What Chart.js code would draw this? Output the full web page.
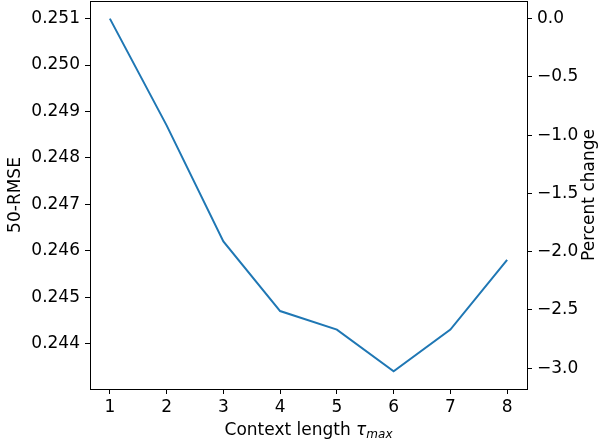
<!DOCTYPE html>
<html>
<head>
<meta charset="utf-8">
<script src="https://cdn.jsdelivr.net/npm/chart.js@4.4.1/dist/chart.umd.min.js"></script>
<style>
  html, body { margin: 0; padding: 0; background: #fff; }
  #wrap { width: 600px; height: 445px; position: relative; }
</style>
</head>
<body>
<div id="wrap"><canvas id="c" width="600" height="445"></canvas></div>
<script>
// ---- data ----
const contextLengths = [1, 2, 3, 4, 5, 6, 7, 8];
const rmseValues = [0.2510, 0.2487, 0.2462, 0.2447, 0.2443, 0.2434, 0.2443, 0.2458];
const xTicks = [1, 2, 3, 4, 5, 6, 7, 8];
const leftTicks = [0.244, 0.245, 0.246, 0.247, 0.248, 0.249, 0.250, 0.251];
const rightTicks = [0.0, -0.5, -1.0, -1.5, -2.0, -2.5, -3.0];
const xTitle = "Context length ";
const xTitleSym = "τ";
const xTitleSub = "max";
const leftTitle = "50-RMSE";
const rightTitle = "Percent change";

// ---- derived ranges (matplotlib-like 5% margins) ----
const yMinD = Math.min(...rmseValues), yMaxD = Math.max(...rmseValues);
const yPad = (yMaxD - yMinD) * 0.05;
const yMin = yMinD - yPad, yMax = yMaxD + yPad;
const xPad = (Math.max(...contextLengths) - Math.min(...contextLengths)) * 0.05;
const base = rmseValues[0];
const pct = v => (v / base - 1) * 100;

const FONT = "DejaVu Sans";
const FS = 17;

const titlesPlugin = {
  id: 'titles',
  afterDraw(chart) {
    const ctx = chart.ctx;
    const a = chart.chartArea;
    ctx.save();
    // top spine
    ctx.strokeStyle = '#000';
    ctx.lineWidth = 1;
    ctx.beginPath();
    ctx.moveTo(a.left, Math.round(a.top) + 0.5);
    ctx.lineTo(a.right, Math.round(a.top) + 0.5);
    ctx.stroke();

    ctx.fillStyle = '#000';
    // x title
    const f1 = FS + "px '" + FONT + "'";
    const f2 = "italic " + FS + "px '" + FONT + "'";
    const f3 = "italic 12px '" + FONT + "'";
    ctx.font = f1; const w1 = ctx.measureText(xTitle).width;
    ctx.font = f2; const w2 = ctx.measureText(xTitleSym).width;
    ctx.font = f3; const w3 = ctx.measureText(xTitleSub).width;
    const total = w1 + w2 + w3;
    let x = (a.left + a.right) / 2 - total / 2;
    const by = 435;
    ctx.textBaseline = 'alphabetic';
    ctx.textAlign = 'left';
    ctx.font = f1; ctx.fillText(xTitle, x, by); x += w1;
    ctx.font = f2; ctx.fillText(xTitleSym, x, by); x += w2;
    ctx.font = f3; ctx.fillText(xTitleSub, x, by + 3);

    // y titles (both read bottom-to-top)
    const cy = (a.top + a.bottom) / 2;
    ctx.font = f1;
    ctx.textAlign = 'center';
    ctx.textBaseline = 'middle';
    ctx.save();
    ctx.translate(16, cy);
    ctx.rotate(-Math.PI / 2);
    ctx.fillText(leftTitle, 0, 0);
    ctx.restore();
    ctx.save();
    ctx.translate(590, cy);
    ctx.rotate(-Math.PI / 2);
    ctx.fillText(rightTitle, 0, 0);
    ctx.restore();
    ctx.restore();
  }
};

const tickFont = { family: FONT, size: FS };
const zeroPad = s => { s.paddingTop = 0; s.paddingBottom = 0; s.paddingLeft = 0; s.paddingRight = 0; };

new Chart(document.getElementById('c'), {
  type: 'line',
  data: {
    datasets: [{
      data: contextLengths.map((x, i) => ({ x: x, y: rmseValues[i] })),
      borderColor: '#1f77b4',
      borderWidth: 2,
      pointRadius: 0,
      tension: 0,
      fill: false,
      yAxisID: 'y'
    }]
  },
  options: {
    responsive: false,
    animation: false,
    devicePixelRatio: 1,
    layout: { padding: { top: 1, left: 0, right: 0, bottom: 0 } },
    plugins: { legend: { display: false }, tooltip: { enabled: false } },
    scales: {
      x: {
        type: 'linear',
        min: Math.min(...contextLengths) - xPad,
        max: Math.max(...contextLengths) + xPad,
        afterBuildTicks: s => { s.ticks = xTicks.map(v => ({ value: v })); },
        afterFit: s => { s.height = 56; zeroPad(s); },
        grid: { display: true, drawOnChartArea: false, tickLength: 5, tickColor: '#000', tickWidth: 1 },
        border: { display: true, color: '#000', width: 1 },
        ticks: { font: tickFont, color: '#000', padding: 3, maxRotation: 0, callback: v => String(v) }
      },
      y: {
        position: 'left',
        min: yMin, max: yMax,
        afterBuildTicks: s => { s.ticks = leftTicks.map(v => ({ value: v })); },
        afterFit: s => { s.width = 90; zeroPad(s); },
        grid: { display: true, drawOnChartArea: false, tickLength: 5, tickColor: '#000', tickWidth: 1 },
        border: { display: true, color: '#000', width: 1 },
        ticks: { font: tickFont, color: '#000', padding: 5, callback: v => v.toFixed(3) }
      },
      y2: {
        position: 'right',
        min: pct(yMin), max: pct(yMax),
        afterBuildTicks: s => { s.ticks = rightTicks.map(v => ({ value: v })); },
        afterFit: s => { s.width = 73; zeroPad(s); },
        grid: { display: true, drawOnChartArea: false, tickLength: 5, tickColor: '#000', tickWidth: 1 },
        border: { display: true, color: '#000', width: 1 },
        ticks: { font: tickFont, color: '#000', padding: 5,
                 callback: v => (v < 0 ? '\u2212' : '') + Math.abs(v).toFixed(1) }
      }
    }
  },
  plugins: [titlesPlugin]
});
</script>
</body>
</html>
